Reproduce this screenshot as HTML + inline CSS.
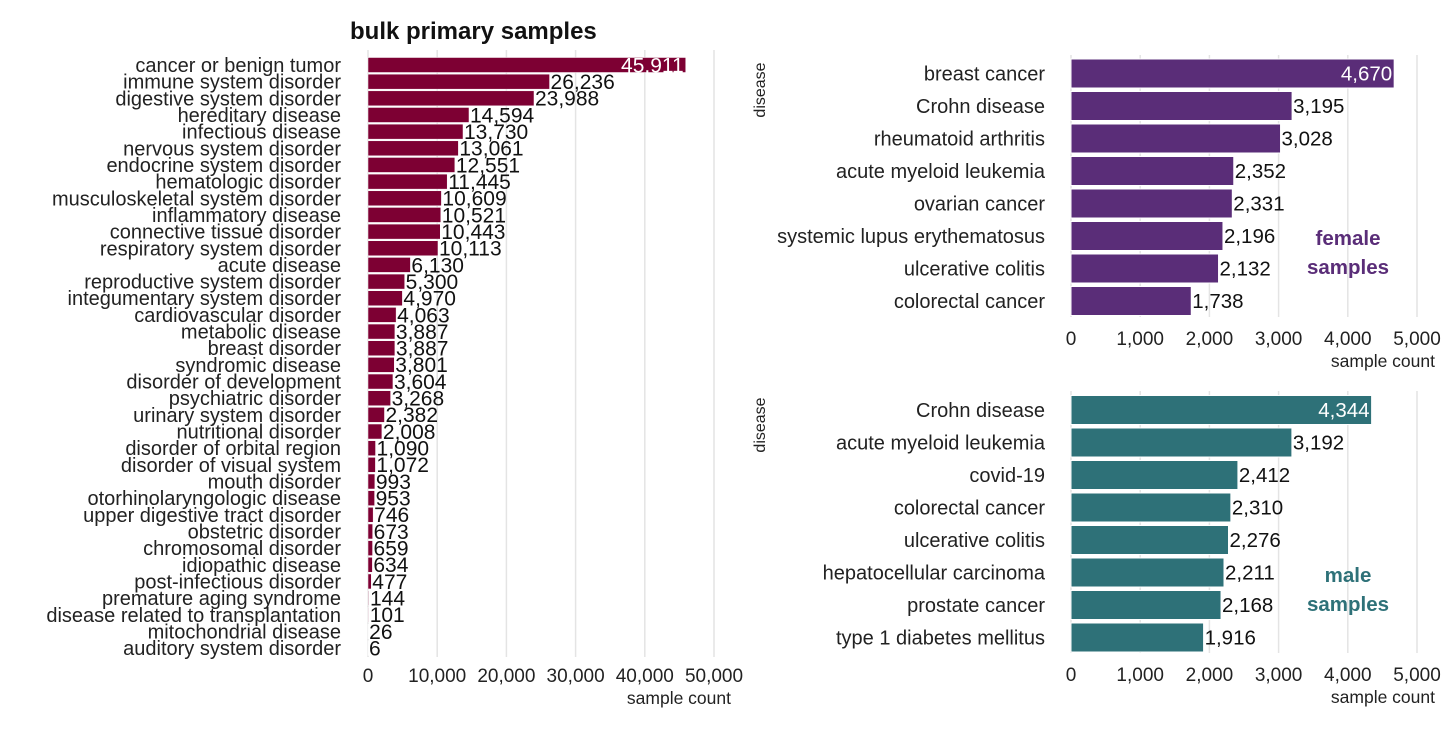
<!DOCTYPE html>
<html><head><meta charset="utf-8"><style>
body{margin:0;background:#fff;}
svg text{font-family:"Liberation Sans",sans-serif;}
</style></head><body>
<svg id="c" width="1456" height="728" xmlns="http://www.w3.org/2000/svg"></svg>
<script>
const leftCats=["cancer or benign tumor","immune system disorder","digestive system disorder","hereditary disease","infectious disease","nervous system disorder","endocrine system disorder","hematologic disorder","musculoskeletal system disorder","inflammatory disease","connective tissue disorder","respiratory system disorder","acute disease","reproductive system disorder","integumentary system disorder","cardiovascular disorder","metabolic disease","breast disorder","syndromic disease","disorder of development","psychiatric disorder","urinary system disorder","nutritional disorder","disorder of orbital region","disorder of visual system","mouth disorder","otorhinolaryngologic disease","upper digestive tract disorder","obstetric disorder","chromosomal disorder","idiopathic disease","post-infectious disorder","premature aging syndrome","disease related to transplantation","mitochondrial disease","auditory system disorder"];
const leftVals=[45911,26236,23988,14594,13730,13061,12551,11445,10609,10521,10443,10113,6130,5300,4970,4063,3887,3887,3801,3604,3268,2382,2008,1090,1072,993,953,746,673,659,634,477,144,101,26,6];
const leftTicks=[0,10000,20000,30000,40000,50000];
const femaleCats=["breast cancer","Crohn disease","rheumatoid arthritis","acute myeloid leukemia","ovarian cancer","systemic lupus erythematosus","ulcerative colitis","colorectal cancer"];
const femaleVals=[4670,3195,3028,2352,2331,2196,2132,1738];
const maleCats=["Crohn disease","acute myeloid leukemia","covid-19","colorectal cancer","ulcerative colitis","hepatocellular carcinoma","prostate cancer","type 1 diabetes mellitus"];
const maleVals=[4344,3192,2412,2310,2276,2211,2168,1916];
const rightTicks=[0,1000,2000,3000,4000,5000];

const svg=document.getElementById('c');
const NS="http://www.w3.org/2000/svg";
function el(t,a,txt){const e=document.createElementNS(NS,t);for(const k in a)e.setAttribute(k,a[k]);if(txt!==undefined)e.textContent=txt;svg.appendChild(e);return e;}
const fmt=v=>v.toLocaleString('en-US');

function panel(o){
  const sx=v=>o.x0+v*o.scale;
  const sy=i=>o.y0+i*o.step;
  o.ticks.forEach(t=>{
    const g=el('line',{x1:sx(t),x2:sx(t),y1:o.gTop,y2:o.gBot,stroke:'#e4e4e4','stroke-width':1.5});
    
    
    const l=el('text',{x:sx(t),y:o.tickY,'font-size':o.tfs,'text-anchor':'middle',fill:'#222'},fmt(t));
    
    
  });
  o.cats.forEach((c,i)=>{
    const v=o.vals[i],y=sy(i);
    const r=el('rect',{x:o.x0,y:y-o.bh/2,width:Math.max(v*o.scale,0.5),height:o.bh,fill:o.color,stroke:'#fff','stroke-width':o.sw});
    if(v<300) r.setAttribute('fill-opacity',0.35);
    
    
    const cl=el('text',{x:o.labX,y:y+o.lfs*0.35,'font-size':o.lfs,'text-anchor':'end',fill:'#222'},c);
    
    
    const inside=i===0;
    const vl=el('text',{x:inside?sx(v)-2:sx(v)+1,y:y+o.vfs*0.35,'font-size':o.vfs,'text-anchor':inside?'end':'start',fill:inside?'#fff':'#111'},fmt(v));
    
    
  });
  const at=el('text',{x:o.axRight,y:o.axY,'font-size':17.5,'text-anchor':'end',fill:'#222'},'sample count');
  
  
}
panel({cats:leftCats,vals:leftVals,ticks:leftTicks,x0:368,scale:69.2/10000,y0:65,step:16.66,bh:15,sw:0.5,gTop:50,gBot:657,tickY:682,tfs:19,lfs:20,vfs:21,labX:341,color:'#7d0033',axRight:731,axY:704});
panel({cats:femaleCats,vals:femaleVals,ticks:rightTicks,x0:1071,scale:69.2/1000,y0:73.5,step:32.5,bh:29,sw:1,gTop:55,gBot:317,tickY:345,tfs:19,lfs:20,vfs:20.5,labX:1045,color:'#5a2d78',axRight:1435,axY:367});
panel({cats:maleCats,vals:maleVals,ticks:rightTicks,x0:1071,scale:69.2/1000,y0:410,step:32.5,bh:29,sw:1,gTop:391,gBot:653,tickY:681,tfs:19,lfs:20,vfs:20.5,labX:1045,color:'#2e7178',axRight:1435,axY:703});

let t=el('text',{x:350,y:39,'font-size':24,'font-weight':'bold',fill:'#111'},'bulk primary samples');

[[90],[425]].forEach(([y])=>{const d=el('text',{x:0,y:0,'font-size':16,'text-anchor':'middle',fill:'#222',transform:`translate(765,${y}) rotate(-90)`},'disease');
});
[['female',245,'#5a2d78'],['samples',274,'#5a2d78'],['male',582,'#2e7178'],['samples',611,'#2e7178']].forEach(([s,y,c])=>{
const a=el('text',{x:1348,y:y,'font-size':20.5,'font-weight':'bold','text-anchor':'middle',fill:c},s);
});
</script>
</body></html>
